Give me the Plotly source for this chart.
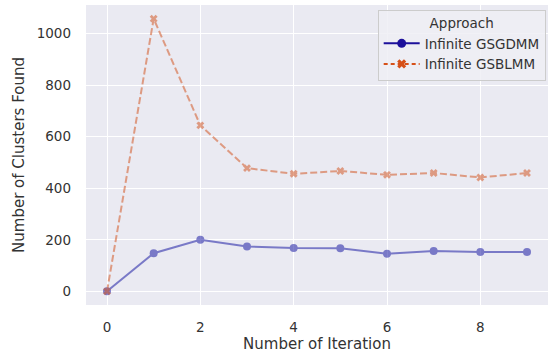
import plotly.graph_objects as go

iterations = list(range(10))
gsgdmm = [0, 148, 200, 174, 168, 167, 146, 157, 153, 153]
gsblmm = [0, 1058, 644, 478, 456, 467, 452, 459, 442, 459]

blue = "rgb(28,16,155)"
blue_plot = "rgb(30,30,165)"
orange = "rgb(214,80,24)"
orange_plot = "rgb(212,90,40)"
txt = "#333333"

fig = go.Figure()
fig.add_trace(go.Scatter(x=iterations, y=gsgdmm, mode="lines+markers",
                         line=dict(color=blue_plot, width=2), marker=dict(symbol="circle", size=8, color=blue_plot),
                         opacity=0.55, showlegend=False))
fig.add_trace(go.Scatter(x=iterations, y=gsblmm, mode="lines+markers",
                         line=dict(color=orange_plot, width=2, dash="7px,3px"),
                         marker=dict(symbol="x", size=7, color=orange_plot),
                         opacity=0.55, showlegend=False))
fig.add_trace(go.Scatter(x=[None], y=[None], mode="lines+markers", name="Infinite GSGDMM",
                         line=dict(color=blue, width=2), marker=dict(symbol="circle", size=9, color=blue)))
fig.add_trace(go.Scatter(x=[None], y=[None], mode="lines+markers", name="Infinite GSBLMM",
                         line=dict(color=orange, width=2, dash="4px,3px"), marker=dict(symbol="x", size=8, color=orange)))

fig.update_layout(
    width=554, height=360,
    margin=dict(l=86, r=6, t=5, b=55),
    paper_bgcolor="white", plot_bgcolor="#eaeaf2",
    font=dict(family="DejaVu Sans", size=13, color=txt),
    legend=dict(x=0.995, y=0.985, xanchor="right", yanchor="top",
                bgcolor="rgba(238,238,245,0.85)", bordercolor="#cccccc", borderwidth=1,
                title=dict(text="Approach", side="top center", font=dict(size=13.5, color=txt)),
                font=dict(size=13.5, color=txt), itemwidth=36, tracegroupgap=0),
    xaxis=dict(range=[-0.45, 9.45], tickvals=[0, 2, 4, 6, 8], showgrid=True, gridcolor="white",
               gridwidth=1.2, zeroline=False, showline=False, ticks="", ticklabelstandoff=12,
               title=dict(text="Number of Iteration", font=dict(size=15), standoff=4),
               tickfont=dict(size=13.5)),
    yaxis=dict(range=[-53, 1111], tickvals=[0, 200, 400, 600, 800, 1000], showgrid=True, gridcolor="white",
               gridwidth=1.2, zeroline=False, showline=False, ticks="", ticklabelstandoff=14,
               title=dict(text="Number of Clusters Found", font=dict(size=15), standoff=8),
               tickfont=dict(size=13.5)),
)

fig.write_html("out.html")
